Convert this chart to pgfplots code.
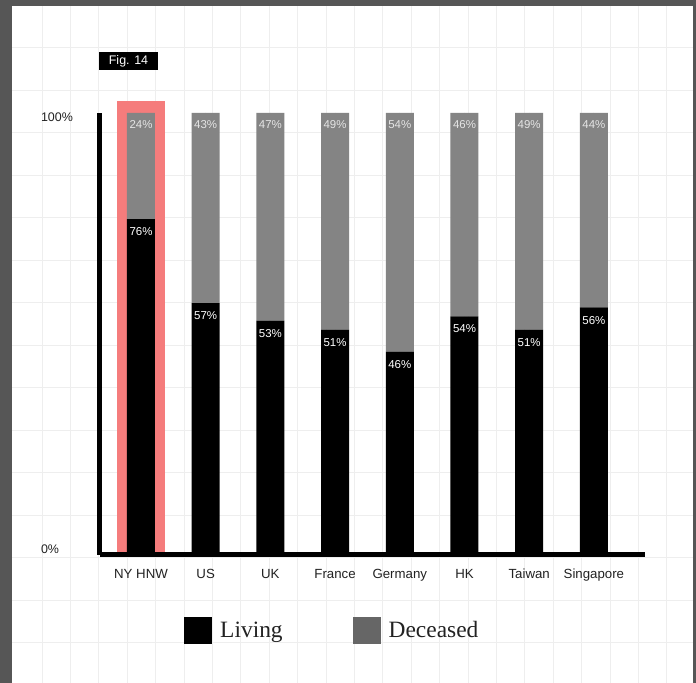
\documentclass[border=0pt]{standalone}
\usepackage{fontspec}
\setsansfont{Liberation Sans}
\newfontfamily\legfont{Liberation Serif}
\usepackage{pgfplots}
\pgfplotsset{compat=1.18}
\definecolor{framec}{HTML}{565656}
\definecolor{gridc}{HTML}{EEEEEE}
\definecolor{dgray}{HTML}{848484}
\definecolor{lgray}{HTML}{666666}
\definecolor{hl}{HTML}{F57C7C}
\definecolor{txt}{HTML}{222222}
\pgfplotsset{
  common/.style={
    at={(99.5bp,128bp)}, anchor=south west,
    width=545.5bp, height=442bp, scale only axis,
    xmin=-0.641, xmax=7.79, ymin=0, ymax=100,
  },
  barlabel/.style 2 args={only marks, mark=*, mark size=0pt, mark options={draw=none,fill=none},
    nodes near coords, point meta=explicit symbolic,
    every node near coord/.append style={anchor=north, yshift=#2, inner sep=0pt,
      text=#1, font=\sffamily\fontsize{11.5}{13}\selectfont}},
}
\begin{document}
\begin{tikzpicture}[x=1bp,y=1bp]
\useasboundingbox (0,0) rectangle (696,683);
\fill[framec] (0,0) rectangle (696,683);
\fill[white] (12,0) rectangle (693,677);
\foreach \k in {0,...,22} \draw[gridc, line width=1bp] ({42+28.4*\k},0) -- ({42+28.4*\k},677);
\foreach \k in {0,...,14} \draw[gridc, line width=1bp] (12,{683-48-42.5*\k}) -- (693,{683-48-42.5*\k});
\node[fill=black, text=white, font=\sffamily\fontsize{12.5}{14}\selectfont, minimum width=59bp, minimum height=18bp, inner sep=0] at (128.5,622) {Fig. 14};
% highlight behind the first bar
\fill[hl] (117,126) rectangle (165,582);
\begin{axis}[
  common,
  axis x line=bottom, axis y line=left,
  axis line style={line width=5bp, black, -},
  ybar stacked, bar width=28bp,
  xtick={0,...,7},
  xticklabels={NY HNW,US,UK,France,Germany,HK,Taiwan,Singapore},
  ytick={1.36,99.1},
  yticklabels={0\%,100\%},
  major tick length=0,
  tick label style={font=\sffamily\fontsize{13.3}{15}\selectfont, text=txt},
  yticklabel style={anchor=west, xshift=-62bp, font=\sffamily\fontsize{12.5}{15}\selectfont},
  xticklabel style={yshift=-10.5bp},
  legend style={at={(0.155,-0.17)}, anchor=west, draw=none, fill=none,
    legend columns=2, inner sep=0pt,
    font=\legfont\fontsize{23.5}{27}\selectfont, text=txt,
    /tikz/every odd column/.append style={column sep=6bp},
    /tikz/every even column/.append style={column sep=68bp}},
]
\addplot+[fill=black, draw=none,
  legend image code/.code={\fill[black] (0bp,-13.5bp) rectangle (28bp,13.5bp);}]
  coordinates {(0,76) (1,57) (2,53) (3,51) (4,46) (5,54) (6,51) (7,56)};
\addlegendentry{Living}
\addplot+[fill=dgray, draw=none,
  legend image code/.code={\fill[lgray] (0bp,-13.5bp) rectangle (28bp,13.5bp);}]
  coordinates {(0,24) (1,43) (2,47) (3,49) (4,54) (5,46) (6,49) (7,44)};
\addlegendentry{Deceased}
\end{axis}
\begin{axis}[common, hide axis, clip=false]
\addplot[barlabel={white}{-8.5bp}] coordinates {(0,76)[76\%] (1,57)[57\%] (2,53)[53\%] (3,51)[51\%] (4,46)[46\%] (5,54)[54\%] (6,51)[51\%] (7,56)[56\%]};
\addplot[barlabel={white!90!black}{-7.5bp}] coordinates {(0,100)[24\%] (1,100)[43\%] (2,100)[47\%] (3,100)[49\%] (4,100)[54\%] (5,100)[46\%] (6,100)[49\%] (7,100)[44\%]};
\end{axis}
\end{tikzpicture}
\end{document}
